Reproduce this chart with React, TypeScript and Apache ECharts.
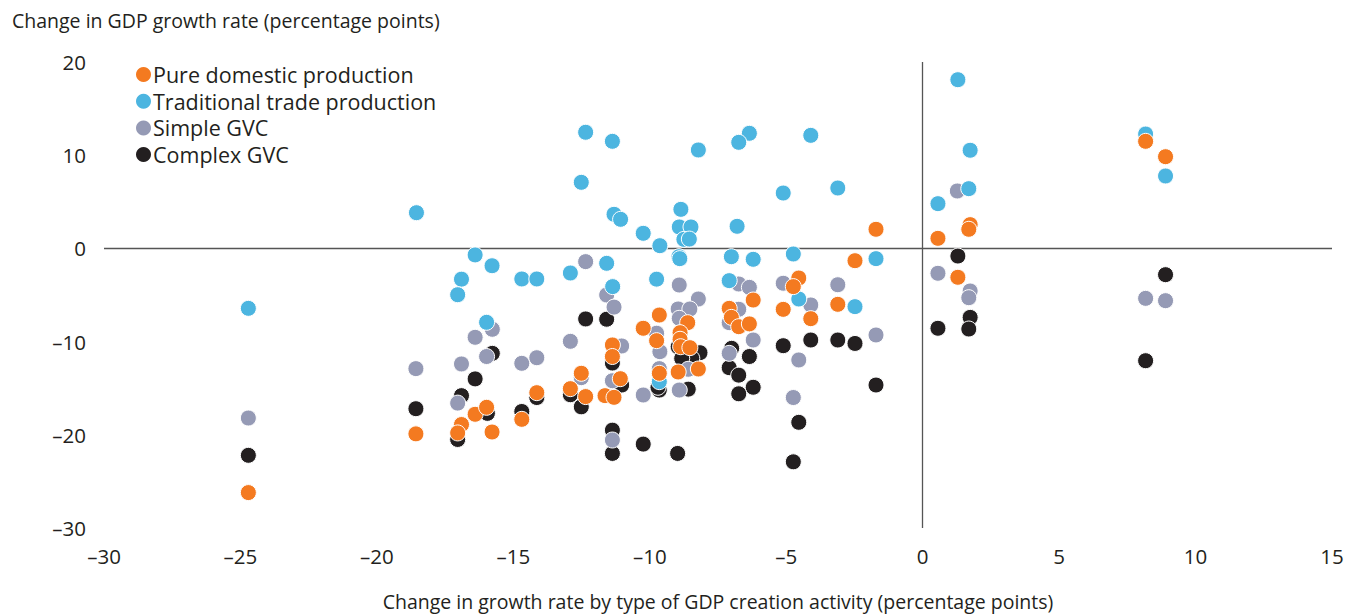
import React, { useEffect, useRef } from "react";
import * as echarts from "echarts";

const seriesNames = [
  "Pure domestic production",
  "Traditional trade production",
  "Simple GVC",
  "Complex GVC",
];

const xTicks = { min: -30, max: 15, interval: 5 };
const yTicks = { min: -30, max: 20, interval: 10 };

const pureDomestic: number[][] = [
  [-24.71, -26.2], [-18.57, -19.9], [-16.4, -17.8], [-15.98, -17.05], [-16.9, -18.9],
  [-17.04, -19.8], [-15.78, -19.7], [-9.65, -7.15], [-10.24, -8.57], [-9.75, -9.9],
  [-11.37, -10.36], [-11.37, -11.6], [-9.65, -13.4], [-12.51, -13.4], [-11.08, -13.98],
  [-12.91, -15.05], [-12.35, -15.9], [-11.64, -15.8], [-11.31, -15.98], [-14.14, -15.48],
  [-14.69, -18.34], [-2.48, -1.32], [-6.21, -5.54], [-7.09, -6.43], [-7.01, -7.4],
  [-6.74, -8.4], [-6.35, -8.1], [-4.54, -3.18], [-4.74, -4.1], [-5.11, -6.54],
  [-4.1, -7.54], [-3.11, -6.0], [-8.61, -7.97], [-8.89, -9.04], [-8.89, -9.75],
  [-8.87, -10.55], [-8.53, -10.65], [-8.96, -13.26], [-8.22, -12.94], [-1.71, 2.05],
  [1.74, 2.55], [1.69, 2.05], [0.56, 1.08], [1.29, -3.1], [8.17, 11.49], [8.9, 9.84],
];

const traditionalTrade: number[][] = [
  [-18.55, 3.83], [-24.71, -6.43], [-16.4, -0.7], [-15.78, -1.86], [-16.9, -3.3],
  [-17.04, -4.97], [-15.98, -7.93], [-12.35, 12.46], [-11.37, 11.49], [-12.51, 7.09],
  [-11.31, 3.66], [-11.07, 3.12], [-10.24, 1.62], [-9.63, 0.29], [-14.69, -3.28],
  [-14.14, -3.28], [-12.91, -2.64], [-11.58, -1.6], [-9.75, -3.3], [-11.36, -4.1],
  [-9.65, -14.3], [-8.22, 10.56], [-6.35, 12.35], [-6.74, 11.38], [-4.1, 12.13],
  [-5.11, 5.94], [-3.11, 6.48], [-8.86, 4.19], [-8.92, 2.3], [-8.49, 2.3],
  [-8.75, 0.97], [-8.55, 1.0], [-6.8, 2.37], [-8.93, -0.89], [-8.9, -1.1],
  [-7.01, -0.89], [-6.21, -1.17], [-4.74, -0.6], [-7.09, -3.46], [-4.54, -5.43],
  [-2.48, -6.25], [-1.71, -1.1], [1.29, 18.1], [1.74, 10.53], [1.69, 6.41],
  [0.56, 4.8], [8.17, 12.27], [8.9, 7.77],
];

const simpleGVC: number[][] = [
  [-24.71, -18.2], [-18.57, -12.9], [-15.77, -8.68], [-16.4, -9.54], [-15.98, -11.6],
  [-16.9, -12.4], [-17.04, -16.6], [-12.35, -1.42], [-11.58, -5.0], [-11.31, -6.3],
  [-9.75, -9.1], [-9.63, -11.08], [-12.91, -9.97], [-11.03, -10.47], [-14.69, -12.33],
  [-14.14, -11.73], [-12.51, -13.87], [-11.37, -14.2], [-10.24, -15.73], [-11.37, -20.56],
  [-9.65, -12.9], [-6.74, -3.82], [-6.35, -4.18], [-6.74, -6.53], [-7.09, -7.97],
  [-6.21, -9.83], [-7.09, -11.26], [-5.11, -3.74], [-4.1, -6.07], [-3.11, -3.9],
  [-4.54, -11.97], [-4.74, -16.0], [-8.92, -3.93], [-8.22, -5.43], [-8.96, -6.5],
  [-8.53, -6.5], [-8.92, -7.5], [-8.59, -12.97], [-8.92, -15.2], [-1.71, -9.29],
  [1.27, 6.16], [0.56, -2.67], [1.74, -4.57], [1.69, -5.29], [8.17, -5.36], [8.9, -5.61],
];

const complexGVC: number[][] = [
  [-24.71, -22.2], [-18.57, -17.2], [-15.77, -11.26], [-16.4, -14.0], [-16.9, -15.8],
  [-15.95, -17.7], [-17.04, -20.5], [-12.35, -7.57], [-11.58, -7.6], [-11.37, -12.3],
  [-9.65, -15.2], [-11.03, -14.66], [-12.91, -15.7], [-12.51, -17.0], [-14.14, -16.0],
  [-14.69, -17.5], [-11.37, -19.5], [-11.37, -22.0], [-10.24, -21.0], [-8.98, -22.0],
  [-9.7, -14.9], [-7.0, -10.72], [-6.35, -11.6], [-7.09, -12.8], [-6.74, -13.6],
  [-6.21, -14.9], [-6.74, -15.6], [-5.11, -10.44], [-4.1, -9.83], [-3.11, -9.83],
  [-2.48, -10.2], [-4.54, -18.66], [-4.74, -22.9], [-8.96, -10.55], [-8.16, -11.19],
  [-8.46, -11.8], [-8.83, -11.8], [-8.59, -15.1], [-1.71, -14.66], [1.29, -0.82],
  [1.74, -7.4], [0.56, -8.57], [1.69, -8.65], [8.9, -2.82], [8.17, -12.05],
];

const colors = ["#F47A20", "#4CB5E0", "#959AB5", "#231F20"];
const FONT = "'Open Sans', Lato, sans-serif";
const TEXT = "#231F20";

const fmt = (v: number) => String(v).replace("-", "\u2013");

export default function App() {
  const ref = useRef<HTMLDivElement>(null);
  useEffect(() => {
    if (!ref.current) return;
    const chart = echarts.init(ref.current, undefined, { renderer: "svg" });
    const dataSets = [pureDomestic, traditionalTrade, simpleGVC, complexGVC];
    const mk = (i: number) => ({
      name: seriesNames[i],
      type: "scatter",
      data: dataSets[i],
      symbolSize: 16,
      itemStyle: { color: colors[i], borderColor: "#fff", borderWidth: 1, opacity: 1 },
    });
    const drawOrder = [3, 2, 1, 0];
    const series: any[] = drawOrder.map((i) => ({ ...mk(i), z: 3 + (3 - i) }));
    series[0].markLine = {
      silent: true,
      symbol: "none",
      label: { show: false },
      lineStyle: { color: "#555", width: 1.3, type: "solid" },
      data: [{ xAxis: 0 }, { yAxis: 0 }],
      z: 1,
    };
    chart.setOption({
      animation: false,
      color: colors,
      textStyle: { fontFamily: FONT, color: TEXT },
      grid: { left: 104, right: 15, top: 62, height: 466, outerBoundsMode: "none", containLabel: false },
      legend: {
        data: seriesNames.map((n, i) => ({ name: n, itemStyle: { color: colors[i], borderWidth: 0 } })),
        orient: "vertical",
        left: 131,
        top: 58.5,
        icon: "circle",
        itemWidth: 15,
        itemHeight: 15,
        itemGap: 4.7,
        textStyle: { fontSize: 21.5, fontFamily: FONT, color: TEXT, lineHeight: 22, padding: [0, 0, 0, -3] },
      },
      xAxis: {
        type: "value",
        min: xTicks.min,
        max: xTicks.max,
        interval: xTicks.interval,
        axisLine: { show: false, onZero: false },
        axisTick: { show: false },
        splitLine: { show: false },
        axisLabel: { fontSize: 20.5, color: TEXT, fontFamily: FONT, margin: 17, formatter: fmt },
        name: "Change in growth rate by type of GDP creation activity (percentage points)",
        nameLocation: "middle",
        nameGap: 63,
        nameTextStyle: { fontSize: 19.5, color: TEXT, fontFamily: FONT },
      },
      yAxis: {
        type: "value",
        min: yTicks.min,
        max: yTicks.max,
        interval: yTicks.interval,
        axisLine: { show: false, onZero: false },
        axisTick: { show: false },
        splitLine: { show: false },
        axisLabel: { fontSize: 20.5, color: TEXT, fontFamily: FONT, margin: 18, formatter: fmt },
      },
      graphic: [
        {
          type: "text",
          left: 12,
          top: 10,
          style: {
            text: "Change in GDP growth rate (percentage points)",
            fontSize: 19.5,
            fontFamily: FONT,
            fill: TEXT,
          },
        },
      ],
      series,
    });
    return () => chart.dispose();
  }, []);
  return (
    <div
      ref={ref}
      style={{ position: "fixed", left: 0, top: 0, width: 1347, height: 615, background: "#fff" }}
    />
  );
}
